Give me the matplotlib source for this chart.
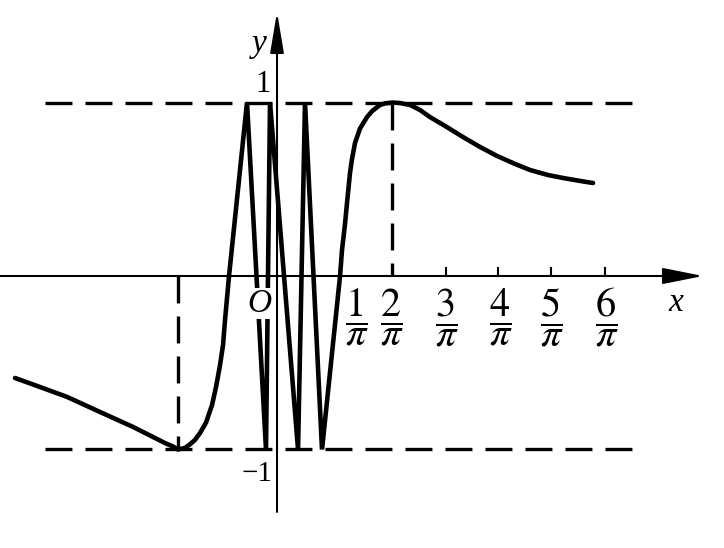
import matplotlib
matplotlib.use('Agg')
import matplotlib.pyplot as plt

plt.rcParams['mathtext.fontset'] = 'stix'
plt.rcParams['lines.scale_dashes'] = False
serif = 'Liberation Serif'

# curve (x in 1/pi-ish units, y in [-1, 1])
curve_x = [-4.897, -4.430, -3.925, -3.308, -2.692, -2.318, -2.093, -1.944, -1.850,
           -1.720, -1.626, -1.533, -1.439, -1.327, -1.215, -1.140, -1.065, -1.009,
           -0.972, -0.897, -0.561,
           -0.206, -0.131, 0.393, 0.523, 0.841,
           1.178, 1.215, 1.271, 1.308, 1.364, 1.402, 1.458, 1.551, 1.682, 1.776,
           1.925, 2.019, 2.150, 2.299, 2.486, 2.673, 2.860, 3.140, 3.477, 3.794,
           4.112, 4.449, 4.729, 5.065, 5.346, 5.664, 5.907]
curve_y = [-0.588, -0.640, -0.697, -0.784, -0.870, -0.928, -0.963, -0.983, -1.0,
           -0.991, -0.970, -0.945, -0.905, -0.845, -0.744, -0.640, -0.513, -0.398,
           -0.254, 0.0, 1.0,
           -1.0, 1.0, -1.0, 1.0, -1.0,
           0.0, 0.150, 0.300, 0.420, 0.594, 0.675, 0.767, 0.850, 0.916, 0.950,
           0.986, 0.995, 1.0, 0.997, 0.986, 0.957, 0.916, 0.865, 0.801, 0.744,
           0.692, 0.646, 0.611, 0.582, 0.565, 0.548, 0.536]

# x tick labels (fractions) and where they sit
tick_labels = [r'$\dfrac{1}{\pi}$', r'$\dfrac{2}{\pi}$', r'$\dfrac{3}{\pi}$',
               r'$\dfrac{4}{\pi}$', r'$\dfrac{5}{\pi}$', r'$\dfrac{6}{\pi}$']
label_x = [1.495, 2.150, 3.178, 4.187, 5.140, 6.168]
tick_x = [3.159, 4.131, 5.121, 6.131]

# extremes marked with dashed guides
min_x, max_x = -1.85, 2.15

fig = plt.figure(figsize=(7.24, 5.48), dpi=100)
ax = fig.add_axes([0, 0, 1, 1])
ax.set_xlim(-5.178, 8.355)
ax.set_ylim(-1.568, 1.591)
ax.axis('off')

dash = (0, (19.4, 9.4))
ax.plot([-4.336, 6.692], [1, 1], color='black', lw=2.4, ls=dash, zorder=1)
ax.plot([-4.336, 6.692], [-1, -1], color='black', lw=2.4, ls=dash, zorder=1)
ax.plot([min_x, min_x], [0, -1], color='black', lw=2.4, ls=dash, zorder=1)
ax.plot([max_x, max_x], [1, 0], color='black', lw=2.4, ls=dash, zorder=1)

# axes with arrows
ax.annotate('', xy=(7.963, 0), xytext=(-5.178, 0),
            arrowprops=dict(arrowstyle='-|>,head_length=2.5,head_width=0.5',
                            mutation_scale=10, lw=1.5, color='black',
                            shrinkA=0, shrinkB=0), zorder=2)
ax.annotate('', xy=(0, 1.522), xytext=(0, -1.36),
            arrowprops=dict(arrowstyle='-|>,head_length=2.5,head_width=0.42',
                            mutation_scale=10, lw=1.5, color='black',
                            shrinkA=0, shrinkB=0), zorder=2)
for t in tick_x:
    ax.plot([t, t], [0, 0.046], color='black', lw=1.5, zorder=2)

ax.plot(curve_x, curve_y, color='black', lw=3.3, solid_joinstyle='miter',
        solid_capstyle='round', zorder=3)

for lab, lx in zip(tick_labels, label_x):
    ax.text(lx, -0.24, lab, fontsize=29, ha='center', va='center')

ax.text(-0.336, -0.07, 'O', family=serif, style='italic', fontsize=24,
        ha='center', va='top', zorder=4,
        bbox=dict(facecolor='white', edgecolor='none', pad=0))
ax.text(-0.262, 1.103, '1', family=serif, fontsize=22, ha='center', va='center')
ax.text(-0.374, -1.141, '\u22121', family=serif, fontsize=21, ha='center', va='center')
ax.text(-0.336, 1.337, 'y', family=serif, style='italic', fontsize=24,
        ha='center', va='center')
ax.text(7.453, -0.155, 'x', family=serif, style='italic', fontsize=24,
        ha='center', va='center')

fig.savefig('out.png', dpi=100)
